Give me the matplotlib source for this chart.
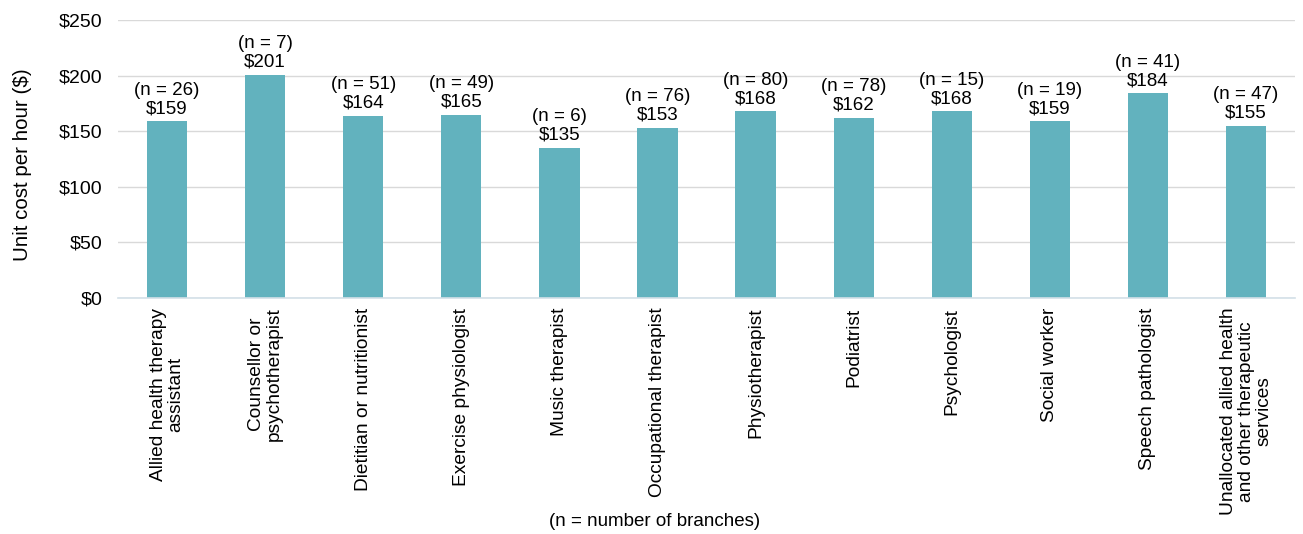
import matplotlib
matplotlib.use("Agg")
import matplotlib.pyplot as plt

plt.rcParams['font.family'] = ['Liberation Sans', 'DejaVu Sans']

categories = [
    "Allied health therapy\nassistant",
    "Counsellor or\npsychotherapist",
    "Dietitian or nutritionist",
    "Exercise physiologist",
    "Music therapist",
    "Occupational therapist",
    "Physiotherapist",
    "Podiatrist",
    "Psychologist",
    "Social worker",
    "Speech pathologist",
    "Unallocated allied health\nand other therapeutic\nservices",
]
unit_cost = [159, 201, 164, 165, 135, 153, 168, 162, 168, 159, 184, 155]
branches = [26, 7, 51, 49, 6, 76, 80, 78, 15, 19, 41, 47]
y_ticks = [0, 50, 100, 150, 200, 250]

bar_color = "#62B2BE"

fig = plt.figure(figsize=(13.03, 5.34), dpi=100)
ax = fig.add_axes([0.0906, 0.442, 0.9033, 0.5205])

x = list(range(len(categories)))
ax.bar(x, unit_cost, width=0.41, color=bar_color, zorder=3)

for xi, v, n in zip(x, unit_cost, branches):
    ax.annotate(f"(n = {n})\n${v}", (xi, v), xytext=(0, 3), textcoords="offset points",
                ha="center", va="bottom", fontsize=13.5, color="#000000", linespacing=1.1)

ax.set_xlim(-0.5, len(categories) - 0.5)
ax.set_ylim(0, 250)
ax.set_yticks(y_ticks)
ax.set_yticklabels([f"${t}" for t in y_ticks], fontsize=14)
ax.set_xticks(x)
ax.set_xticklabels(categories, rotation=90, fontsize=13.8, ha="center", va="top",
                   multialignment="center", linespacing=1.05)
ax.tick_params(axis="y", length=0, pad=11)
ax.tick_params(axis="x", length=0, pad=7)

ax.grid(axis="y", color="#D9D9D9", linewidth=1, zorder=0)
for s in ["top", "right", "left"]:
    ax.spines[s].set_visible(False)
ax.spines["bottom"].set_color("#D3E0E8")
ax.spines["bottom"].set_linewidth(1.2)
ax.spines["bottom"].set_zorder(4)

fig.text(0.0169, 0.691, "Unit cost per hour ($)", rotation=90, ha="center", va="center",
         fontsize=14.8)
fig.text(0.502, 0.008, "(n = number of branches)", ha="center", va="bottom", fontsize=13.5)

fig.savefig("out.png", dpi=100)
